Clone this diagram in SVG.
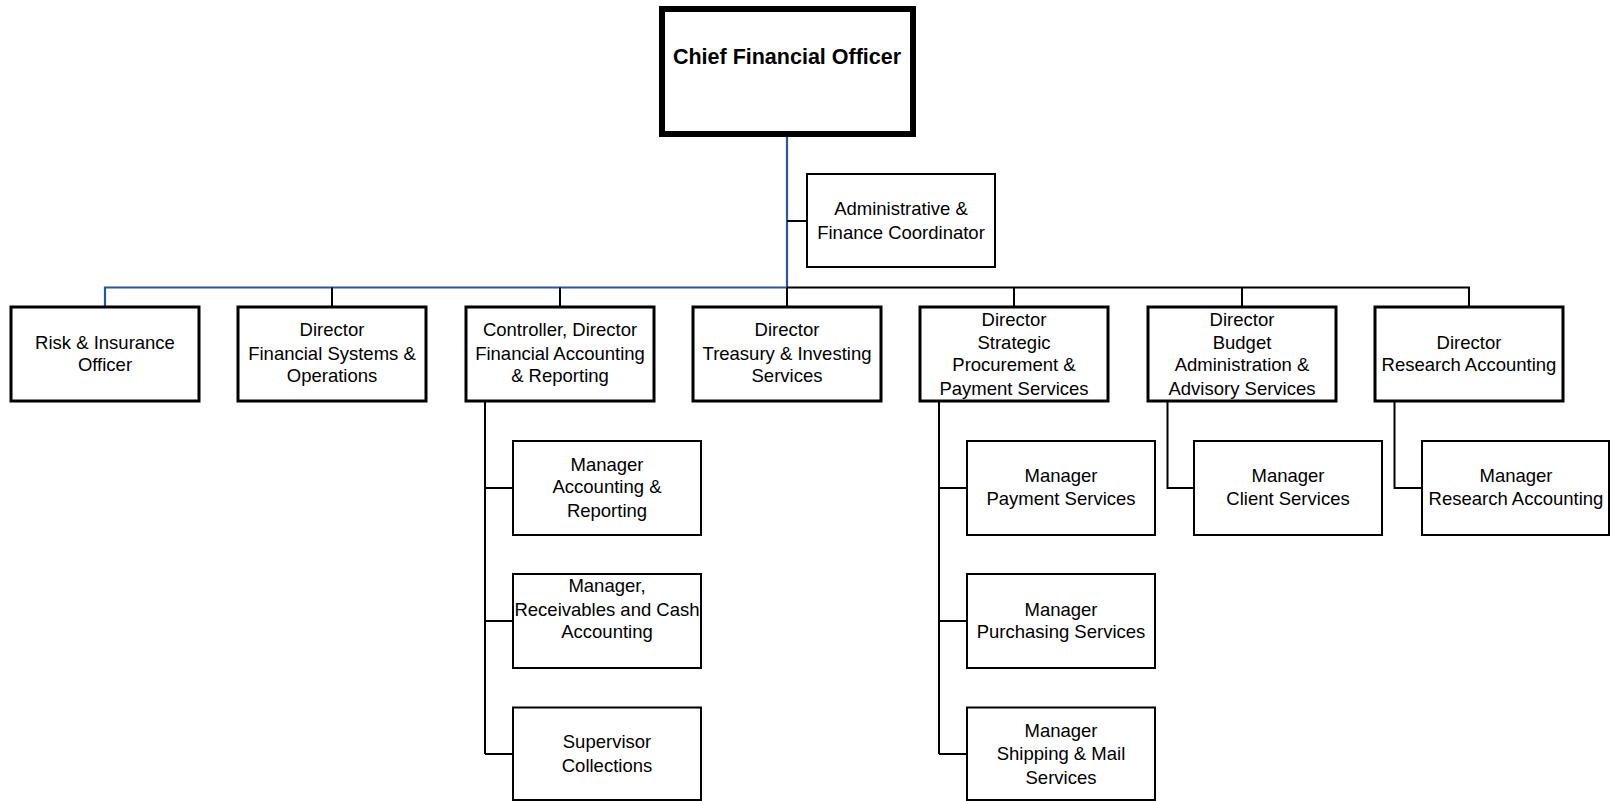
<svg xmlns="http://www.w3.org/2000/svg" width="1610" height="801" viewBox="0 0 1610 801">
<style>
.b{fill:#fff;stroke:#000}
.top{stroke-width:3}
.mgr{stroke-width:2}
.cfo{stroke-width:6}
text{font-family:"Liberation Sans",Arial,sans-serif;font-size:18.5px;fill:#000;text-anchor:middle}
.t{font-weight:bold;font-size:21.5px}
.c{fill:none;stroke:#000;stroke-width:2}
.blue{stroke:#2E5597;stroke-width:2.2}
</style>
<rect width="1610" height="801" fill="#fff"/>
<g id="connectors">
<path class="c blue" d="M787 135V287.5H105V306"/>
<path class="c" d="M787 287.5H1469V306M332 287.5V306M560 287.5V306M787 287.5V306M1014 287.5V306M1242 287.5V306M787 221H807"/>
<path class="c" d="M485 401V754M485 488H513M485 621H513M485 754H513"/>
<path class="c" d="M939 401V754M939 488H967M939 621H967M939 754H967"/>
<path class="c" d="M1167.5 401V488H1194"/>
<path class="c" d="M1394.5 401V488H1422"/>
</g>
<g id="cfo"><rect class="b cfo" x="662" y="9" width="251" height="125"/><text class="t" x="787" y="64">Chief Financial Officer</text></g>
<g id="admin"><rect class="b mgr" x="807" y="174" width="188" height="93"/><text x="901" y="215">Administrative &amp;</text><text x="901" y="238.5">Finance Coordinator</text></g>
<g id="risk"><rect class="b top" x="11" y="307" width="188" height="94"/><text x="105" y="348.5">Risk &amp; Insurance</text><text x="105" y="371">Officer</text></g>
<g id="fso"><rect class="b top" x="238" y="307" width="188" height="94"/><text x="332" y="336">Director</text><text x="332" y="359.5">Financial Systems &amp;</text><text x="332" y="382">Operations</text></g>
<g id="controller"><rect class="b top" x="466" y="307" width="188" height="94"/><text x="560" y="336">Controller, Director</text><text x="560" y="359.5">Financial Accounting</text><text x="560" y="382">&amp; Reporting</text></g>
<g id="treasury"><rect class="b top" x="693" y="307" width="188" height="94"/><text x="787" y="336">Director</text><text x="787" y="359.5">Treasury &amp; Investing</text><text x="787" y="382">Services</text></g>
<g id="procurement"><rect class="b top" x="920" y="307" width="188" height="94"/><text x="1014" y="326">Director</text><text x="1014" y="348.5">Strategic</text><text x="1014" y="371">Procurement &amp;</text><text x="1014" y="394.5">Payment Services</text></g>
<g id="budget"><rect class="b top" x="1148" y="307" width="188" height="94"/><text x="1242" y="326">Director</text><text x="1242" y="348.5">Budget</text><text x="1242" y="371">Administration &amp;</text><text x="1242" y="394.5">Advisory Services</text></g>
<g id="research"><rect class="b top" x="1375" y="307" width="188" height="94"/><text x="1469" y="348.5">Director</text><text x="1469" y="371">Research Accounting</text></g>
<g id="mgr-acct"><rect class="b mgr" x="513" y="441" width="188" height="94"/><text x="607" y="470.5">Manager</text><text x="607" y="493">Accounting &amp;</text><text x="607" y="516.5">Reporting</text></g>
<g id="mgr-recv"><rect class="b mgr" x="513" y="574" width="188" height="94"/><text x="607" y="591.5">Manager,</text><text x="607" y="615.5">Receivables and Cash</text><text x="607" y="638">Accounting</text></g>
<g id="sup-coll"><rect class="b mgr" x="513" y="707.5" width="188" height="92.5"/><text x="607" y="747.5">Supervisor</text><text x="607" y="771.5">Collections</text></g>
<g id="mgr-pay"><rect class="b mgr" x="967" y="441" width="188" height="94"/><text x="1061" y="482">Manager</text><text x="1061" y="504.5">Payment Services</text></g>
<g id="mgr-purch"><rect class="b mgr" x="967" y="574" width="188" height="94"/><text x="1061" y="615.5">Manager</text><text x="1061" y="638">Purchasing Services</text></g>
<g id="mgr-ship"><rect class="b mgr" x="967" y="707.5" width="188" height="92.5"/><text x="1061" y="736.5">Manager</text><text x="1061" y="760">Shipping &amp; Mail</text><text x="1061" y="783.5">Services</text></g>
<g id="mgr-client"><rect class="b mgr" x="1194" y="441" width="188" height="94"/><text x="1288" y="482">Manager</text><text x="1288" y="504.5">Client Services</text></g>
<g id="mgr-research"><rect class="b mgr" x="1422" y="441" width="187" height="94"/><text x="1516" y="482">Manager</text><text x="1516" y="504.5">Research Accounting</text></g>
</svg>
